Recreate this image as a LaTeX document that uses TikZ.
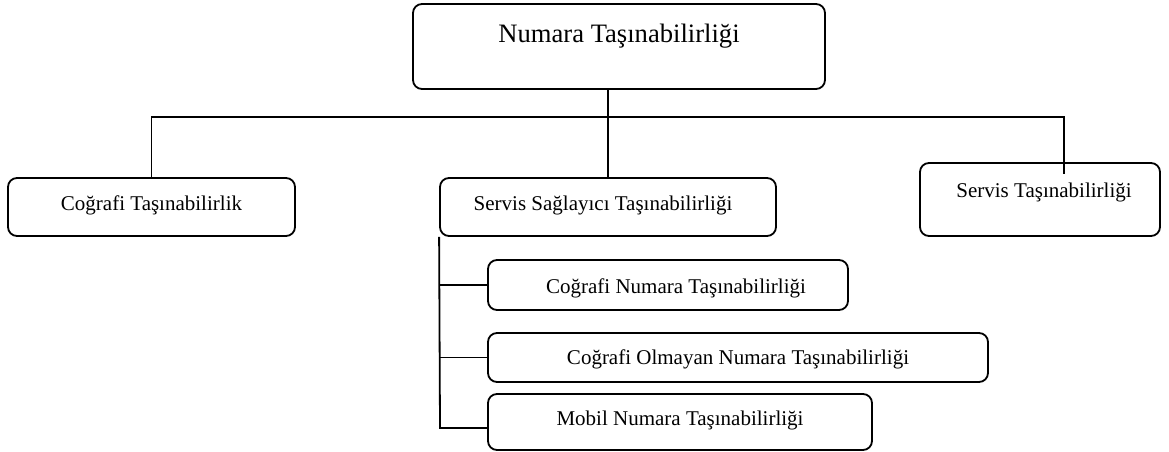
\documentclass[tikz,border=0pt]{standalone}
\usepackage{fontspec}
\setmainfont{Liberation Serif}
\begin{document}
\begin{tikzpicture}[x=1pt,y=-1pt,
  box/.style={draw, line width=1.8pt, rounded corners=9pt, inner sep=0pt},
  big/.style={anchor=base, inner sep=0pt, font=\fontsize{26.6}{30}\selectfont},
  lbl/.style={anchor=base, inner sep=0pt, font=\fontsize{21}{25}\selectfont},
  conn/.style={line width=1.8pt}]
\useasboundingbox[fill=white] (0,0) rectangle (1169,452);
% boxes
\node[box, minimum width=412pt, minimum height=85pt] (top) at (619,46.5) {};
\node[box, minimum width=287pt, minimum height=58pt] (geo) at (151.5,207) {};
\node[box, minimum width=336pt, minimum height=58pt] (sp) at (608,207) {};
\node[box, minimum width=240pt, minimum height=73pt] (serv) at (1040,199.5) {};
\node[box, minimum width=360pt, minimum height=50pt] (cnt) at (668,285) {};
\node[box, minimum width=500pt, minimum height=49pt] (cont) at (738,357.5) {};
\node[box, minimum width=384pt, minimum height=56pt] (mnt) at (680,422) {};
% texts
\node[big] (ttop) at (619,43) {Numara Taşınabilirliği};
\node[lbl] (tgeo) at (151.5,210) {Coğrafi Taşınabilirlik};
\node[lbl] (tsp) at (603,210) {Servis Sağlayıcı Taşınabilirliği};
\node[lbl] (tserv) at (1044,197) {Servis Taşınabilirliği};
\node[lbl] (tcnt) at (676,293) {Coğrafi Numara Taşınabilirliği};
\node[lbl] (tcont) at (738,364) {Coğrafi Olmayan Numara Taşınabilirliği};
\node[lbl] (tmnt) at (680,425) {Mobil Numara Taşınabilirliği};
% connectors
\coordinate (hub) at (608,117);
\coordinate (servend) at (1064,174);
\coordinate (trunkend) at (440,428);
\draw[conn] (sp.north) -- (sp.north |- top.south);
\draw[conn] (geo.north) -- (geo.north |- hub) -- (hub -| servend) -- (servend);
\draw[conn] (sp.south west) -- (trunkend) -- (trunkend -| mnt.west);
\draw[conn] (cnt.west) -- (cnt.west -| trunkend);
\draw[conn] (cont.west) -- (cont.west -| trunkend);
\end{tikzpicture}
\end{document}
